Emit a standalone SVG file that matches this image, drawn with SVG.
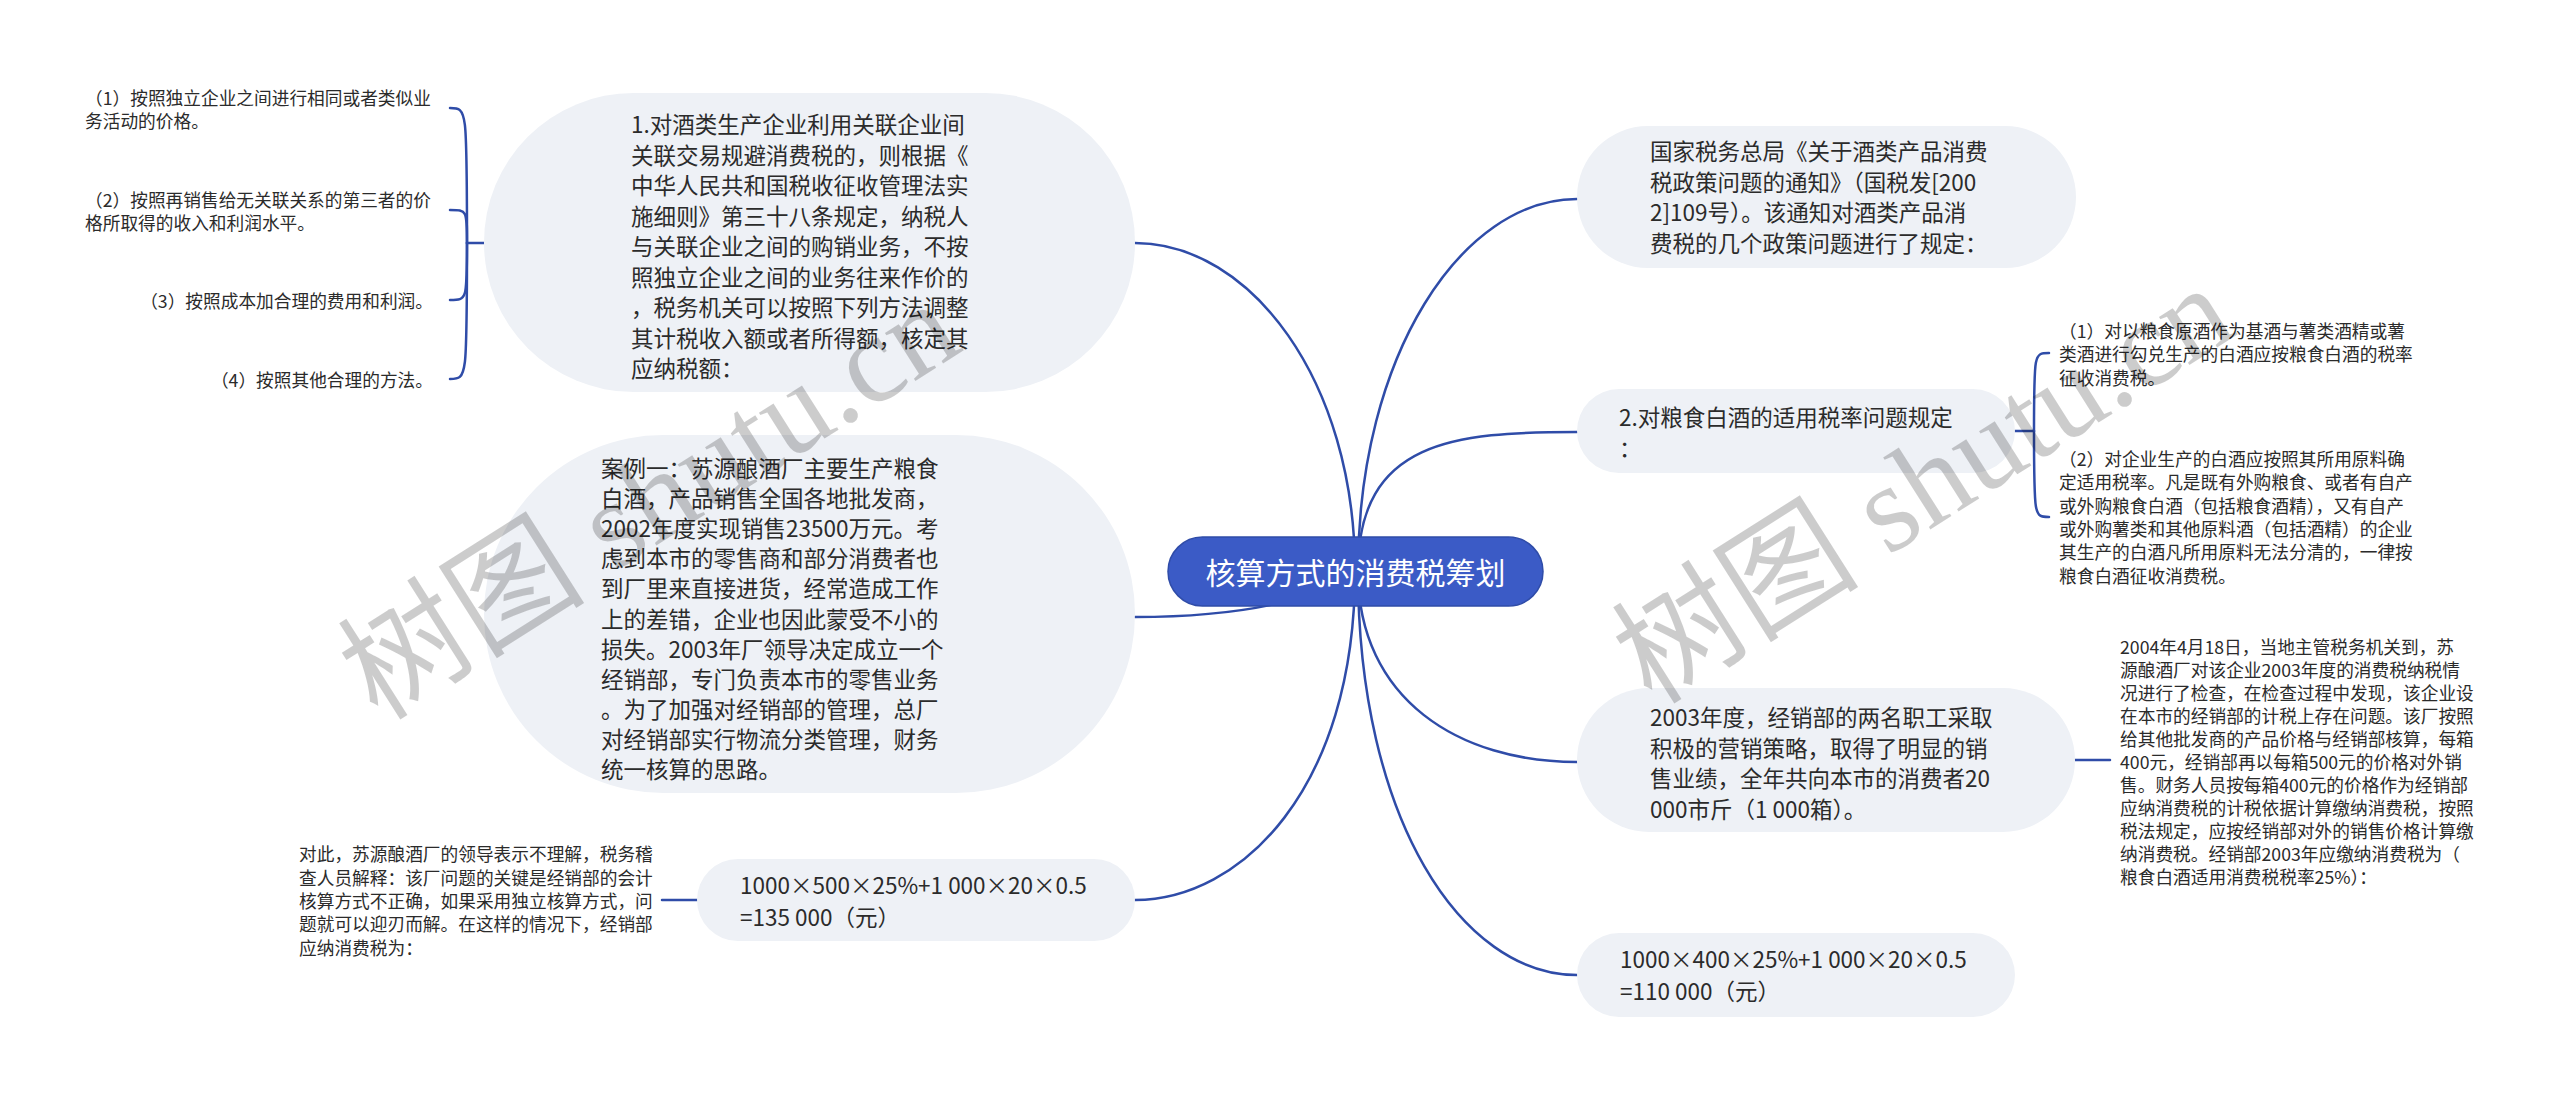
<svg xmlns="http://www.w3.org/2000/svg" width="2560" height="1093" viewBox="0 0 2560 1093">
<style>
.bg{fill:#ffffff}
.b{fill:#EEF1F6}
.t{font-family:"Noto Sans CJK SC","Noto Sans",sans-serif;fill:#2b2b2b;dominant-baseline:central}
.m{font-size:22.5px}
.s{font-size:17.7px}
.c{fill:none;stroke:#2F4CA8;stroke-width:2.5;stroke-linecap:round}
.root{fill:#3B5BC6;stroke:#2F4CA8;stroke-width:1.5}
.rt{font-family:"Noto Sans CJK SC","Noto Sans",sans-serif;font-size:30px;fill:#ffffff;dominant-baseline:central;text-anchor:middle}
.wm{font-family:"Liberation Serif","Noto Sans CJK SC",serif;font-size:124px;fill:#000;fill-opacity:0.2}
</style>
<rect class="bg" x="0" y="0" width="2560" height="1093"/>
<g id="connectors">
<path class="c" d="M1135,243 C1250,243 1355,380 1355,571"/>
<path class="c" d="M1135,617 C1240,617 1320,600 1355,571"/>
<path class="c" d="M1135,900 C1240,900 1355,790 1355,571"/>
<path class="c" d="M1577,199 C1462,199 1358,355 1358,571"/>
<path class="c" d="M1577,432 C1455,432 1358,440 1358,571"/>
<path class="c" d="M1577,762 C1460,762 1358,700 1358,571"/>
<path class="c" d="M1577,975 C1462,975 1358,820 1358,571"/>
<path class="c" d="M484,243 H467"/>
<path class="c" d="M467,243 C467,108 467,108 450,108"/>
<path class="c" d="M467,243 C467,210 467,210 450,210"/>
<path class="c" d="M467,243 C467,300 467,300 450,300"/>
<path class="c" d="M467,243 C467,379 467,379 450,379"/>
<path class="c" d="M2015,431 H2034"/>
<path class="c" d="M2034,431 C2034,353 2034,353 2049,353"/>
<path class="c" d="M2034,431 C2034,517 2034,517 2049,517"/>
<path class="c" d="M697,900 H662"/>
<path class="c" d="M2075,760 H2110"/>
</g>
<g id="root">
<rect class="root" x="1168" y="537" width="375" height="69" rx="34.5"/>
<text class="rt" x="1355.5" y="571">核算方式的消费税筹划</text>
</g>
<g id="node-l1">
<rect class="b" x="484" y="93" width="651" height="299" rx="149.5"/>
<text class="t m"><tspan x="631" y="123">1.对酒类生产企业利用关联企业间</tspan><tspan x="631" y="153.5">关联交易规避消费税的，则根据《</tspan><tspan x="631" y="184">中华人民共和国税收征收管理法实</tspan><tspan x="631" y="214.5">施细则》第三十八条规定，纳税人</tspan><tspan x="631" y="245">与关联企业之间的购销业务，不按</tspan><tspan x="631" y="275.5">照独立企业之间的业务往来作价的</tspan><tspan x="631" y="306">，税务机关可以按照下列方法调整</tspan><tspan x="631" y="336.5">其计税收入额或者所得额，核定其</tspan><tspan x="631" y="367">应纳税额：</tspan></text>
</g>
<g id="node-l1-c1">
<text class="t s"><tspan x="85" y="97">（1）按照独立企业之间进行相同或者类似业</tspan><tspan x="85" y="120">务活动的价格。</tspan></text>
</g>
<g id="node-l1-c2">
<text class="t s"><tspan x="85" y="199">（2）按照再销售给无关联关系的第三者的价</tspan><tspan x="85" y="222">格所取得的收入和利润水平。</tspan></text>
</g>
<g id="node-l1-c3">
<text class="t s" x="433" y="300" text-anchor="end">（3）按照成本加合理的费用和利润。</text>
</g>
<g id="node-l1-c4">
<text class="t s" x="433" y="379" text-anchor="end">（4）按照其他合理的方法。</text>
</g>
<g id="node-l2">
<rect class="b" x="484" y="435" width="651" height="358" rx="179"/>
<text class="t m"><tspan x="601" y="467">案例一：苏源酿酒厂主要生产粮食</tspan><tspan x="601" y="497.1">白酒，产品销售全国各地批发商，</tspan><tspan x="601" y="527.2">2002年度实现销售23500万元。考</tspan><tspan x="601" y="557.3">虑到本市的零售商和部分消费者也</tspan><tspan x="601" y="587.4">到厂里来直接进货，经常造成工作</tspan><tspan x="601" y="617.5">上的差错，企业也因此蒙受不小的</tspan><tspan x="601" y="647.6">损失。2003年厂领导决定成立一个</tspan><tspan x="601" y="677.7">经销部，专门负责本市的零售业务</tspan><tspan x="601" y="707.8">。为了加强对经销部的管理，总厂</tspan><tspan x="601" y="737.9">对经销部实行物流分类管理，财务</tspan><tspan x="601" y="768">统一核算的思路。</tspan></text>
</g>
<g id="node-l3">
<rect class="b" x="697" y="859" width="438" height="82" rx="41"/>
<text class="t m"><tspan x="740" y="884">1000×500×25%+1 000×20×0.5</tspan><tspan x="740" y="916">=135 000（元）</tspan></text>
</g>
<g id="node-l3-c1">
<text class="t s"><tspan x="299" y="853.4">对此，苏源酿酒厂的领导表示不理解，税务稽</tspan><tspan x="299" y="876.7">查人员解释：该厂问题的关键是经销部的会计</tspan><tspan x="299" y="900">核算方式不正确，如果采用独立核算方式，问</tspan><tspan x="299" y="923.3">题就可以迎刃而解。在这样的情况下，经销部</tspan><tspan x="299" y="946.6">应纳消费税为：</tspan></text>
</g>
<g id="node-r1">
<rect class="b" x="1577" y="126" width="499" height="142" rx="71"/>
<text class="t m"><tspan x="1650" y="150">国家税务总局《关于酒类产品消费</tspan><tspan x="1650" y="180.5">税政策问题的通知》（国税发[200</tspan><tspan x="1650" y="211">2]109号）。该通知对酒类产品消</tspan><tspan x="1650" y="241.5">费税的几个政策问题进行了规定：</tspan></text>
</g>
<g id="node-r2">
<rect class="b" x="1577" y="389" width="438" height="84" rx="42"/>
<text class="t m"><tspan x="1619" y="416">2.对粮食白酒的适用税率问题规定</tspan><tspan x="1619" y="447">：</tspan></text>
</g>
<g id="node-r2-c1">
<text class="t s"><tspan x="2059" y="330">（1）对以粮食原酒作为基酒与薯类酒精或薯</tspan><tspan x="2059" y="353.3">类酒进行勾兑生产的白酒应按粮食白酒的税率</tspan><tspan x="2059" y="376.6">征收消费税。</tspan></text>
</g>
<g id="node-r2-c2">
<text class="t s"><tspan x="2059" y="458">（2）对企业生产的白酒应按照其所用原料确</tspan><tspan x="2059" y="481.3">定适用税率。凡是既有外购粮食、或者有自产</tspan><tspan x="2059" y="504.6">或外购粮食白酒（包括粮食酒精），又有自产</tspan><tspan x="2059" y="527.9">或外购薯类和其他原料酒（包括酒精）的企业</tspan><tspan x="2059" y="551.2">其生产的白酒凡所用原料无法分清的，一律按</tspan><tspan x="2059" y="574.5">粮食白酒征收消费税。</tspan></text>
</g>
<g id="node-r3">
<rect class="b" x="1577" y="688" width="498" height="144" rx="72"/>
<text class="t m"><tspan x="1650" y="716">2003年度，经销部的两名职工采取</tspan><tspan x="1650" y="746.5">积极的营销策略，取得了明显的销</tspan><tspan x="1650" y="777">售业绩，全年共向本市的消费者20</tspan><tspan x="1650" y="807.5">000市斤（1 000箱）。</tspan></text>
</g>
<g id="node-r3-c1">
<text class="t s"><tspan x="2120" y="646">2004年4月18日，当地主管税务机关到，苏</tspan><tspan x="2120" y="669">源酿酒厂对该企业2003年度的消费税纳税情</tspan><tspan x="2120" y="692">况进行了检查，在检查过程中发现，该企业设</tspan><tspan x="2120" y="715">在本市的经销部的计税上存在问题。该厂按照</tspan><tspan x="2120" y="738">给其他批发商的产品价格与经销部核算，每箱</tspan><tspan x="2120" y="761">400元，经销部再以每箱500元的价格对外销</tspan><tspan x="2120" y="784">售。财务人员按每箱400元的价格作为经销部</tspan><tspan x="2120" y="807">应纳消费税的计税依据计算缴纳消费税，按照</tspan><tspan x="2120" y="830">税法规定，应按经销部对外的销售价格计算缴</tspan><tspan x="2120" y="853">纳消费税。经销部2003年应缴纳消费税为（</tspan><tspan x="2120" y="876">粮食白酒适用消费税税率25%）：</tspan></text>
</g>
<g id="node-r4">
<rect class="b" x="1577" y="933" width="438" height="84" rx="42"/>
<text class="t m"><tspan x="1620" y="958">1000×400×25%+1 000×20×0.5</tspan><tspan x="1620" y="990">=110 000（元）</tspan></text>
</g>
<g id="watermarks">
<text class="wm" x="378" y="722" transform="rotate(-32.4 378 722)">树图 shutu.cn</text>
<text class="wm" x="1652" y="706" transform="rotate(-32.4 1652 706)">树图 shutu.cn</text>
</g>
</svg>
